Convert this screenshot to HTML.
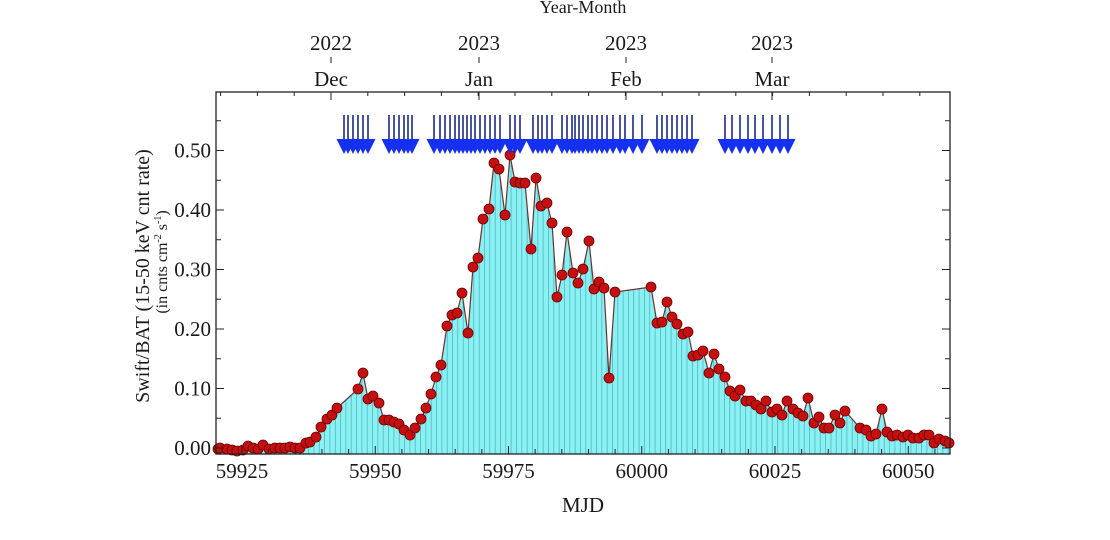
<!DOCTYPE html>
<html><head><meta charset="utf-8"><style>
html,body{margin:0;padding:0;background:#fff;width:1110px;height:540px;overflow:hidden}
svg text{font-family:"Liberation Serif","DejaVu Serif",serif;fill:#1a1a1a}
</style></head><body>
<svg id="s" width="1110" height="540" viewBox="0 0 1110 540" xmlns="http://www.w3.org/2000/svg">
<text x="583" y="13" font-size="18" text-anchor="middle">Year-Month</text>
<text x="331" y="50" font-size="21" text-anchor="middle">2022</text>
<text x="479" y="50" font-size="21" text-anchor="middle">2023</text>
<text x="626" y="50" font-size="21" text-anchor="middle">2023</text>
<text x="772" y="50" font-size="21" text-anchor="middle">2023</text>
<text x="331" y="86" font-size="21" text-anchor="middle">Dec</text>
<text x="479" y="86" font-size="21" text-anchor="middle">Jan</text>
<text x="626" y="86" font-size="21" text-anchor="middle">Feb</text>
<text x="772" y="86" font-size="21" text-anchor="middle">Mar</text>
<text x="583" y="512" font-size="21" text-anchor="middle">MJD</text>
<text transform="translate(149,276) rotate(-90)" font-size="20" text-anchor="middle">Swift/BAT (15-50 keV cnt rate)</text>
<text transform="translate(167,262) rotate(-90)" font-size="16" text-anchor="middle">(in cnts cm<tspan dy="-6" font-size="10">-2</tspan><tspan dy="6"> s</tspan><tspan dy="-6" font-size="10">-1</tspan><tspan dy="6">)</tspan></text>
<g id="g"></g>
</svg>
<script>
var pts=[[218,449],[220,448],[227,449],[232,450],[237,451],[243,450],[248,446],[253,448],[258,449],[263,445],[269,449],[275,448],[280,448],[285,448],[290,447],[295,448],[300,448],[306,443],[310,442],[316,437],[321,427],[327,419],[332,415],[337,408],[358,389],[363,373],[368,399],[373,396],[379,403],[384,420],[389,420],[394,422],[399,424],[404,430],[410,435],[415,428],[421,419],[426,408],[431,394],[436,377],[441,365],[447,326],[452,315],[457,313],[462,293],[468,333],[473,267],[478,258],[483,219],[489,209],[494,163],[499,169],[505,215],[510,155],[515,182],[520,183],[525,183],[531,249],[536,178],[541,206],[547,203],[552,223],[557,297],[562,275],[567,232],[573,273],[578,283],[583,269],[589,241],[594,289],[599,282],[604,288],[609,378],[615,292],[651,287],[657,323],[662,322],[667,302],[672,317],[677,324],[683,334],[688,332],[693,356],[698,355],[703,351],[709,373],[714,354],[719,369],[725,377],[730,391],[735,396],[740,390],[746,401],[751,401],[756,405],[761,409],[766,401],[772,412],[777,409],[782,415],[787,401],[793,409],[798,413],[803,416],[808,398],[814,423],[819,417],[824,428],[829,428],[835,415],[840,423],[845,411],[860,428],[866,430],[871,436],[876,434],[882,409],[887,432],[892,436],[897,435],[903,437],[908,435],[913,438],[919,438],[924,435],[929,435],[934,443],[939,439],[945,441],[949,443]];
var L=216,R=950,T=92,B=454,h='';
var poly=L+','+B+' '+pts.map(p=>p.join(',')).join(' ')+' '+R+','+B;
h+='<polygon points="'+poly+'" fill="#8af0f2"/>';
h+='<clipPath id="c"><polygon points="'+poly+'"/></clipPath><g clip-path="url(#c)" stroke="#4fb8c4" stroke-width="0.8">';
for(var x=L+2;x<R;x+=5.33)h+='<line x1="'+x.toFixed(1)+'" y1="'+T+'" x2="'+x.toFixed(1)+'" y2="'+B+'"/>';
h+='</g>';
h+='<polyline points="'+pts.map(p=>p.join(',')).join(' ')+'" fill="none" stroke="#6a3030" stroke-width="1.2"/>';
pts.forEach(p=>{h+='<circle cx="'+p[0]+'" cy="'+p[1]+'" r="5" fill="#c41010" stroke="#6a0000" stroke-width="0.8"/>';});
var ax=[344,348,353,358,363,368,389,394,399,404,408,412,434,440,445,450,455,459,463,467,471,475,480,485,490,495,500,510,515,520,533,538,542,547,552,562,567,572,575,579,583,588,592,597,602,607,613,620,625,633,642,657,662,667,672,677,682,687,692,725,732,740,748,755,763,772,780,788];
ax.forEach(x=>{h+='<line x1="'+x+'" y1="115" x2="'+x+'" y2="145" stroke="#1a2a80" stroke-width="1.6"/><polygon points="'+(x-7.5)+',139 '+(x+7.5)+',139 '+x+',154" fill="#1530f0"/>';});
h+='<rect x="'+L+'" y="'+T+'" width="'+(R-L)+'" height="'+(B-T)+'" fill="none" stroke="#222" stroke-width="1.3"/>';
var pxd=5.33;
for(var m=59920;m<=60057;m+=5){var x=242+(m-59925)*pxd;if(x<L||x>R)continue;var maj=(m%25==0);h+='<line x1="'+x+'" y1="'+B+'" x2="'+x+'" y2="'+(B-(maj?8:5))+'" stroke="#222"/>';if(maj)h+='<text x="'+x+'" y="478" font-size="21" text-anchor="middle">'+m+'</text>';}
for(var i=0;i<=11;i++){var y=448-i*29.75;var maj=i%2==0;h+='<line x1="'+L+'" y1="'+y+'" x2="'+(L+(maj?8:5))+'" y2="'+y+'" stroke="#222"/><line x1="'+R+'" y1="'+y+'" x2="'+(R-(maj?8:5))+'" y2="'+y+'" stroke="#222"/>';if(maj)h+='<text x="211" y="'+(y+7)+'" font-size="21" text-anchor="end">'+(i/20).toFixed(2)+'</text>';}
[331,479,626,772].forEach(x=>{h+='<line x1="'+x+'" y1="'+T+'" x2="'+x+'" y2="'+(T+8)+'" stroke="#222"/><line x1="'+x+'" y1="57" x2="'+x+'" y2="63" stroke="#222"/>';});
for(var x=331-4*36.8;x<R;x+=36.8){if(x>L)h+='<line x1="'+x+'" y1="'+T+'" x2="'+x+'" y2="'+(T+4)+'" stroke="#222"/>';}
document.getElementById('g').innerHTML=h;
</script>
</body></html>
